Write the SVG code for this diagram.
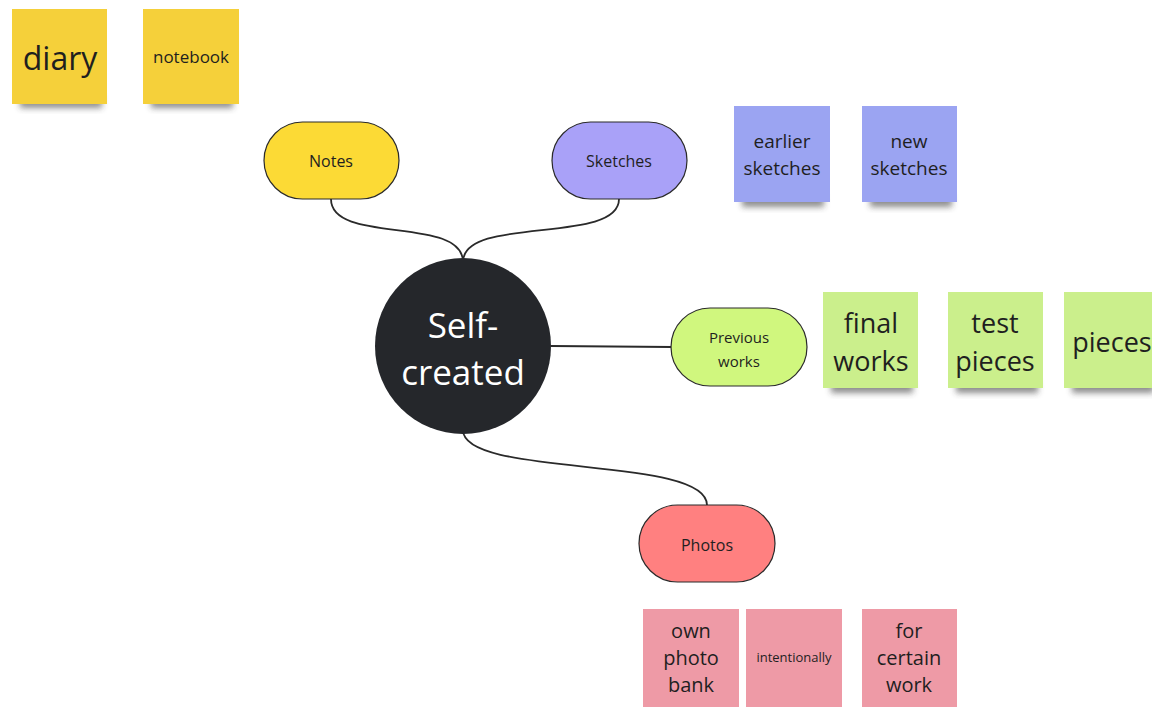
<svg xmlns="http://www.w3.org/2000/svg" width="1152" height="707" viewBox="0 0 1152 707">
<defs>
<filter id="sh" x="-20%" y="-50%" width="140%" height="200%"><feGaussianBlur stdDeviation="3"/></filter>
<style>
text{font-family:"Open Sans","Noto Sans","Liberation Sans",sans-serif;text-anchor:middle;dominant-baseline:central;fill:#1f1f1f}
.pill{stroke:#2a2a2a;stroke-width:1.2}
.shadow{fill:#333;opacity:0.55;filter:url(#sh)}
.conn{fill:none;stroke:#2a2a2a;stroke-width:1.8}
.y{fill:#F5D03A}.b{fill:#9BA4F2}.g{fill:#CBEF8C}.p{fill:#EE9AA6}
</style>
</defs>
<rect width="1152" height="707" fill="#fff"/>
<g id="connectors">
<path class="conn" d="M331,199 C331,245 463,215 463,262"/>
<path class="conn" d="M619,199 C619,245 463,215 463,262"/>
<path class="conn" d="M551,346 L672,347"/>
<path class="conn" d="M463,430 C463,478 707,455 707,505"/>
</g>
<g id="sticky-diary"><rect class="shadow" x="20" y="96" width="82" height="12"/><rect class="y" x="12" y="9" width="95" height="95"/><text x="60" y="57" font-size="32">diary</text></g>
<g id="sticky-notebook"><rect class="shadow" x="151" y="96" width="82" height="12"/><rect class="y" x="143" y="9" width="96" height="95"/><text x="191" y="56" font-size="17">notebook</text></g>
<g id="sticky-earlier"><rect class="shadow" x="742" y="195" width="82" height="12"/><rect class="b" x="734" y="106" width="96" height="96"/><text x="782" y="141" font-size="19">earlier</text><text x="782" y="168" font-size="19">sketches</text></g>
<g id="sticky-new"><rect class="shadow" x="870" y="195" width="82" height="12"/><rect class="b" x="862" y="106" width="95" height="96"/><text x="909" y="141" font-size="19">new</text><text x="909" y="168" font-size="19">sketches</text></g>
<g id="sticky-final"><rect class="shadow" x="831" y="381" width="82" height="12"/><rect class="g" x="823" y="292" width="95" height="96"/><text x="871" y="322" font-size="27">final</text><text x="871" y="360" font-size="27">works</text></g>
<g id="sticky-test"><rect class="shadow" x="956" y="381" width="82" height="12"/><rect class="g" x="948" y="292" width="95" height="96"/><text x="995" y="322" font-size="27">test</text><text x="995" y="360" font-size="27">pieces</text></g>
<g id="sticky-pieces"><rect class="shadow" x="1072" y="381" width="82" height="12"/><rect class="g" x="1064" y="292" width="95" height="96"/><text x="1112" y="341" font-size="27">pieces</text></g>
<g id="sticky-own"><rect class="p" x="643" y="609" width="96" height="98"/><text x="691" y="630" font-size="20">own</text><text x="691" y="657" font-size="20">photo</text><text x="691" y="684" font-size="20">bank</text></g>
<g id="sticky-intent"><rect class="p" x="746" y="609" width="96" height="98"/><text x="794" y="657" font-size="13">intentionally</text></g>
<g id="sticky-certain"><rect class="p" x="862" y="609" width="95" height="98"/><text x="909" y="630" font-size="20">for</text><text x="909" y="657" font-size="20">certain</text><text x="909" y="684" font-size="20">work</text></g>
<g id="node-notes"><rect class="pill" x="264" y="122" width="135" height="77" rx="38.5" fill="#FCDA35"/><text x="331" y="161" font-size="16">Notes</text></g>
<g id="node-sketches"><rect class="pill" x="552" y="122" width="135" height="77" rx="38.5" fill="#A9A1F8"/><text x="619" y="161" font-size="16">Sketches</text></g>
<g id="node-previous"><rect class="pill" x="671" y="308" width="136" height="78" rx="39" fill="#D0F77E"/><text x="739" y="337" font-size="15">Previous</text><text x="739" y="361" font-size="15">works</text></g>
<g id="node-photos"><rect class="pill" x="639" y="505" width="136" height="77" rx="38.5" fill="#FF8080"/><text x="707" y="545" font-size="16">Photos</text></g>
<g id="node-center"><circle cx="463" cy="346" r="88" fill="#25272b"/><text x="463" y="324" font-size="35" style="fill:#fff">Self-</text><text x="463" y="371" font-size="35" style="fill:#fff">created</text></g>
</svg>
